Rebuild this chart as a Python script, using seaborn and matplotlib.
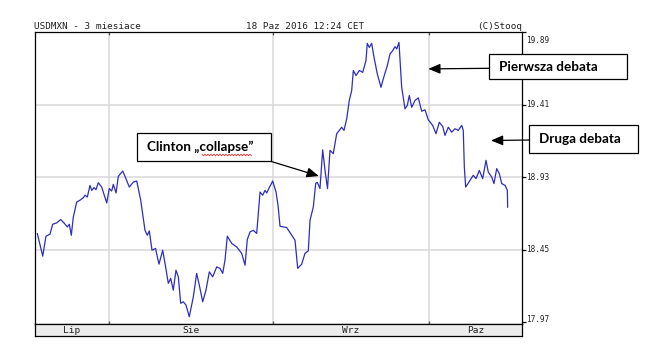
import matplotlib
matplotlib.use("Agg")
import matplotlib.pyplot as plt
from matplotlib.patches import Rectangle
from matplotlib.lines import Line2D
import numpy as np
import pandas as pd
import seaborn as sns

# ---------------- dane ----------------
sesja = [
    -0.58, 0.18, 0.64, 1.20, 1.58, 2.15, 2.71, 3.17, 3.64, 3.92,
    4.20, 4.48, 4.96, 5.42, 5.89, 6.13, 6.45, 6.83, 7.07, 7.39,
    7.67, 8.00, 8.47, 9.18, 9.54, 9.88, 10.11, 10.49, 10.81, 11.43,
    11.75, 12.36, 12.92, 13.40, 13.96, 14.56, 14.89, 15.17, 15.55, 16.04,
    16.53, 17.05, 17.38, 17.84, 18.18, 18.54, 18.92, 19.25, 19.58, 19.95,
    20.33, 20.79, 21.36, 21.83, 22.20, 22.68, 23.14, 23.61, 24.08, 24.65,
    25.11, 25.49, 25.81, 26.14, 26.76, 27.46, 28.16, 28.63, 28.95, 29.33,
    29.79, 30.27, 30.74, 31.11, 31.44, 31.68, 32.04, 32.52, 32.99, 33.27,
    33.55, 34.49, 35.19, 35.66, 36.04, 36.60, 37.06, 37.53, 37.77, 38.23,
    38.57, 38.79, 39.17, 39.55, 39.88, 40.23, 40.58, 41.04, 41.52, 41.89,
    42.22, 42.55, 42.93, 43.29, 43.63, 43.86, 44.24, 44.70, 45.18, 45.64,
    45.82, 46.11, 46.44, 46.77, 47.23, 47.75, 48.07, 48.64, 49.02, 49.40,
    49.72, 49.96, 50.28, 50.66, 51.13, 51.45, 51.73, 52.07, 52.53, 53.00,
    53.47, 53.94, 54.40, 55.02, 55.49, 55.95, 56.43, 56.75, 57.22, 57.69,
    58.16, 58.62, 59.10, 59.32, 59.47, 59.66, 60.27, 60.73, 61.11, 61.58,
    62.05, 62.52, 62.84, 63.32, 63.64, 64.02, 64.39, 64.73, 65.20, 65.52,
    65.56,
]
kurs = [
    18.557, 18.407, 18.539, 18.552, 18.618, 18.627, 18.649, 18.627, 18.600, 18.618,
    18.545, 18.666, 18.765, 18.777, 18.794, 18.810, 18.798, 18.875, 18.842, 18.860,
    18.847, 18.893, 18.864, 18.759, 18.854, 18.838, 18.882, 18.825, 18.935, 18.970,
    18.935, 18.864, 18.897, 18.904, 18.777, 18.578, 18.545, 18.574, 18.446, 18.458,
    18.354, 18.446, 18.359, 18.227, 18.260, 18.182, 18.314, 18.270, 18.095, 18.105,
    18.083, 18.006, 18.138, 18.293, 18.215, 18.105, 18.182, 18.303, 18.270, 18.336,
    18.326, 18.293, 18.380, 18.539, 18.491, 18.468, 18.425, 18.347, 18.517, 18.567,
    18.578, 18.557, 18.831, 18.810, 18.842, 18.825, 18.860, 18.904, 18.831, 18.743,
    18.605, 18.596, 18.545, 18.512, 18.326, 18.354, 18.425, 18.442, 18.644, 18.732,
    18.889, 18.895, 18.854, 19.110, 18.974, 18.854, 19.107, 19.085, 19.217, 19.239,
    19.260, 19.239, 19.316, 19.437, 19.503, 19.635, 19.602, 19.635, 19.623, 19.701,
    19.815, 19.788, 19.815, 19.722, 19.613, 19.524, 19.580, 19.668, 19.745, 19.767,
    19.793, 19.778, 19.821, 19.524, 19.382, 19.404, 19.470, 19.392, 19.437, 19.454,
    19.366, 19.375, 19.309, 19.272, 19.217, 19.293, 19.265, 19.206, 19.260, 19.227,
    19.250, 19.239, 19.272, 19.239, 18.996, 18.864, 18.909, 18.942, 18.920, 18.974,
    18.920, 19.041, 18.963, 18.930, 18.887, 18.986, 18.953, 18.887, 18.875, 18.842,
    18.730,
]
miesiace = ["Lip", "Sie", "Wrz", "Paz"]
granice_miesiecy = [9.5, 32.5, 54.5]          # between last and first session of month
zakres_sesji = (-0.906, 67.58)
zakres_kursu = (17.958, 19.885)
poziomy = [17.97, 18.45, 18.93, 19.41, 19.89]
naglowek_lewy = "USDMXN - 3 miesiace"
naglowek_srodek = "18 Paz 2016 12:24 CET"
naglowek_prawy = "(C)Stooq"

# annotation: label, target session, target rate
adnotacje_tekst = ["Clinton \u201ecollapse\u201d", "Pierwsza debata", "Druga debata"]
adnotacje_sesja = [39.00, 54.40, 63.22]
adnotacje_kurs = [18.937, 19.646, 19.172]

# ---------------- layout (pixels) ----------------
W, H = 656, 352
def fx(x): return x / W
def fy(y): return 1 - y / H

# box: x0, y0, x1, y1 ; arrow start
boxes = [(137.3, 133.0, 270.7, 160.7), (489.3, 54.0, 627.3, 79.3), (529.3, 125.0, 638.3, 153.3)]
arrow_start = [(270.7, 161.3), (489.3, 68.3), (529.3, 140.0)]

sns.set_theme(style="white")
plt.rcParams["font.family"] = ["DejaVu Sans"]

fig = plt.figure(figsize=(W / 100, H / 100), dpi=100)
fig.patch.set_facecolor("white")

ax = fig.add_axes([fx(35), fy(324), fx(522) - fx(35), fy(32) - fy(324)])
df = pd.DataFrame({"sesja": sesja, "kurs": kurs})

grid_c = "#d8d8d8"
for g in granice_miesiecy:
    ax.axvline(g, color=grid_c, lw=1.1, zorder=0)
for v in poziomy[1:-1]:
    ax.axhline(v, color=grid_c, lw=1.1, zorder=0)

sns.lineplot(data=df, x="sesja", y="kurs", ax=ax, color="#2d2dc0", lw=0.9,
             estimator=None, sort=False, zorder=3)
ax.set_xlim(*zakres_sesji)
ax.set_ylim(*zakres_kursu)
ax.set_xlabel("")
ax.set_ylabel("")
ax.set_facecolor("white")
for s in ax.spines.values():
    s.set_visible(True)
    s.set_color("black")
    s.set_linewidth(0.9)

ax.set_xticks(granice_miesiecy)
ax.tick_params(axis="x", bottom=True, top=True, direction="in", length=2.5,
               width=0.9, color="#555555", labelbottom=False, labeltop=False)
ax.set_yticks(poziomy)
ax.tick_params(axis="y", left=False, right=True, direction="out", length=3,
               width=0.9, color="black", labelleft=False, labelright=False)

mono = "DejaVu Sans Mono"
for v in poziomy:
    dy = 0.0
    if v == max(poziomy):
        dy = -8.5
    elif v == min(poziomy):
        dy = 2.5
    ax.annotate(f"{v:.2f}", xy=(1, v), xycoords=("axes fraction", "data"),
                xytext=(4 * 0.72, dy * 0.72), textcoords="offset points",
                ha="left", va="center", family=mono, fontsize=5.6, color="#222222",
                annotation_clip=False)

# month strip
ax2 = fig.add_axes([fx(35), fy(336), fx(522) - fx(35), fy(324) - fy(336)])
ax2.set_facecolor("#ececec")
ax2.set_xlim(*zakres_sesji)
ax2.set_ylim(0, 1)
ax2.set_xticks([])
ax2.set_yticks([])
for s in ax2.spines.values():
    s.set_visible(True)
    s.set_color("black")
    s.set_linewidth(0.9)
kraw = [zakres_sesji[0]] + granice_miesiecy + [zakres_sesji[1]]
for i, m in enumerate(miesiace):
    ax2.text((kraw[i] + kraw[i + 1]) / 2, 0.45, m, ha="center", va="center",
             family=mono, fontsize=6.8, color="#222222")

# header
fig.text(fx(34), fy(26.5), naglowek_lewy, ha="left", va="center", family=mono, fontsize=6.7, color="#222222")
fig.text(fx(305.5), fy(26.5), naglowek_srodek, ha="center", va="center", family=mono, fontsize=6.7, color="#222222")
fig.text(fx(522), fy(26.5), naglowek_prawy, ha="right", va="center", family=mono, fontsize=6.7, color="#222222")

# annotation boxes and arrows
for (x0, y0, x1, y1), (sx, sy), txt, ds, kv in zip(boxes, arrow_start, adnotacje_tekst,
                                                     adnotacje_sesja, adnotacje_kurs):
    fig.add_artist(Rectangle((fx(x0), fy(y1)), fx(x1) - fx(x0), fy(y0) - fy(y1),
                             transform=fig.transFigure, fc="white", ec="black", lw=0.9, zorder=5))
    fig.text(fx(x0 + 10), fy((y0 + y1) / 2), txt, ha="left", va="center",
             family=["Lato", "DejaVu Sans"], fontweight="bold", fontsize=9.7, color="black", zorder=6)
    ax.annotate("", xy=(ds, kv), xycoords="data", xytext=(fx(sx), fy(sy)),
                textcoords="figure fraction", annotation_clip=False,
                arrowprops=dict(arrowstyle="-|>,head_length=0.6,head_width=0.25",
                                color="black", lw=0.9, shrinkA=0, shrinkB=0), zorder=6)

# spell-check squiggle under "collapse"
xs = np.arange(202, 252, 1.5)
ys = 155.0 + np.where(np.arange(len(xs)) % 2 == 0, -0.8, 0.8)
fig.add_artist(Line2D([fx(x) for x in xs], [fy(y) for y in ys], transform=fig.transFigure,
                      color="#e03030", lw=0.6, zorder=7))

fig.savefig("out.png", dpi=100)
